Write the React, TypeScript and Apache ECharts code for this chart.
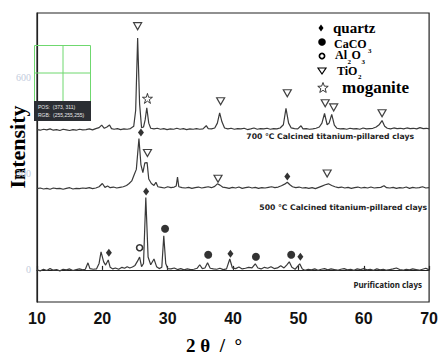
import { useEffect, useRef } from "react";
import * as echarts from "echarts";

// 2θ axis ticks
const xTicks = [10, 20, 30, 40, 50, 60, 70];
const yLabels = [0, 300, 600];

// Purification clays (baseline 0)
const purification: [number, number][] = [
  [10, 0], [10.5, -3], [11, 2], [11.5, -2], [12, 4], [12.5, -1], [13, 1], [13.5, -3], [14, 2], [14.5, 0],
  [15, 3], [15.5, -2], [16, 1], [16.5, 3], [17, 0], [17.4, 2], [17.8, 22], [18.1, 4], [18.6, 2], [19.1, 3],
  [19.5, 20], [19.8, 56], [20.2, 25], [20.5, 15], [20.9, 31], [21.2, 8], [21.6, 3], [22, 6], [22.5, 2], [23, 8],
  [23.4, 5], [23.8, 10], [24.2, 6], [24.6, 9], [25, 14], [25.4, 28], [25.7, 40], [26.0, 10], [26.3, 20], [26.65, 225],
  [27.0, 40], [27.4, 16], [27.9, 34], [28.3, 10], [28.7, 4], [29.1, 8], [29.4, 106], [29.7, 20], [30.0, 4], [30.5, 3],
  [31, 6], [31.5, 1], [32, 4], [32.5, 0], [33, 3], [33.5, 1], [34, 2], [34.5, 5], [34.9, 16], [35.3, 4],
  [35.7, 6], [36.1, 22], [36.5, 5], [37, 3], [37.5, 2], [38, 5], [38.5, 1], [39, 3], [39.5, 34], [39.9, 6],
  [40.4, 4], [40.9, 9], [41.4, 3], [41.9, 5], [42.4, 8], [42.9, 6], [43.4, 19], [43.8, 6], [44.3, 3], [44.8, 8],
  [45.3, 5], [45.8, 10], [46.3, 4], [46.8, 6], [47.3, 13], [47.8, 6], [48.2, 15], [48.6, 25], [49.0, 8], [49.5, 2],
  [50.2, 19], [50.6, 3], [51, -1], [51.5, 2], [52, 0], [52.5, 3], [53, -1], [53.5, 2], [54, 4], [54.5, 0],
  [55, 3], [55.5, 1], [56, -1], [56.5, 2], [57, 4], [57.5, 0], [58, 2], [58.5, -1], [59, 3], [59.5, 1],
  [60, 4], [60.5, 0], [61, 2], [61.5, -1], [62, 3], [62.5, 0], [63, 2], [63.5, -1], [64, 1], [64.5, 3],
  [65, 6], [65.5, 1], [66, -1], [66.5, 2], [67, 0], [67.5, 3], [68, 1], [68.5, -1], [69, 2], [69.5, 5], [70, 0],
];

// 500 ℃ calcined (relative to its own baseline)
const offset500 = 253;
const calcined500: [number, number][] = [
  [10, 0], [10.5, 2], [11, -1], [11.5, 1], [12, -2], [12.5, 2], [13, 0], [13.5, 1], [14, -2], [14.5, 1],
  [15, 3], [15.5, -1], [16, 1], [16.5, 0], [17, 2], [17.5, 1], [18, 3], [18.5, 0], [19, 2], [19.5, 6],
  [20.0, 16], [20.4, 4], [20.8, 8], [21.2, 3], [21.7, 5], [22.2, 2], [22.7, 4], [23.2, 6], [23.7, 10], [24.1, 16],
  [24.5, 24], [24.9, 45], [25.2, 60], [25.6, 156], [25.9, 75], [26.2, 50], [26.5, 80], [26.85, 81], [27.1, 30], [27.5, 16],
  [27.9, 10], [28.2, 20], [28.5, 6], [29, 4], [29.5, 2], [30, 6], [30.5, 3], [31, 5], [31.3, 8], [31.5, 36],
  [31.7, 6], [32.2, 3], [32.7, 2], [33.2, 4], [33.7, 1], [34.2, 3], [34.7, 5], [35.2, 2], [35.7, 4], [36.2, 6],
  [36.7, 3], [37.2, 7], [37.6, 15], [38, 11], [38.4, 5], [38.9, 3], [39.4, 1], [39.9, 4], [40.4, 2], [40.9, 5],
  [41.4, 1], [41.9, 3], [42.4, 5], [42.9, 2], [43.4, 4], [43.9, 1], [44.4, 3], [44.9, 2], [45.4, 4], [45.9, 6],
  [46.4, 3], [46.9, 5], [47.4, 9], [47.9, 14], [48.3, 20], [48.7, 12], [49.1, 6], [49.6, 3], [50.1, 5], [50.6, 2],
  [51.1, 3], [51.6, 1], [52.1, 3], [52.6, 0], [53.1, 4], [53.6, 8], [54.1, 12], [54.6, 15], [55.1, 10], [55.6, 6],
  [56.1, 3], [56.6, 5], [57.1, 2], [57.6, 4], [58.1, 1], [58.6, 3], [59.1, 5], [59.6, 2], [60.1, 4], [60.6, 2],
  [61.1, 5], [61.6, 2], [62.1, 3], [62.6, 4], [63.1, 9], [63.5, 3], [64, 2], [64.5, 4], [65, 1], [65.5, 3],
  [66, 2], [66.5, 5], [67, 1], [67.5, 4], [68, 2], [68.5, 3], [69, 6], [69.5, 2], [70, 3],
];

// 700 ℃ calcined (relative to its own baseline)
const offset700 = 437;
const calcined700: [number, number][] = [
  [10, 0], [10.5, -2], [11, 1], [11.5, -1], [12, 2], [12.5, -2], [13, 0], [13.5, -3], [14, 1], [14.5, -1],
  [15, -3], [15.5, 0], [16, -2], [16.5, 1], [17, -1], [17.5, 0], [18, 2], [18.5, -1], [19, 3], [19.5, 6],
  [19.9, 14], [20.3, 4], [20.7, 8], [21.1, 14], [21.4, 3], [21.8, 1], [22.3, 3], [22.8, 0], [23.3, 2], [23.8, 1],
  [24.3, 3], [24.8, 10], [25.1, 60], [25.4, 285], [25.7, 80], [26.0, 6], [26.3, 8], [26.55, 30], [26.8, 68], [27.1, 20],
  [27.4, 4], [27.9, 2], [28.4, 4], [28.9, 1], [29.4, 3], [29.9, 0], [30.4, 2], [30.9, 1], [31.4, 4], [31.9, 1],
  [32.4, 3], [32.9, 0], [33.4, 2], [33.9, 1], [34.4, 3], [34.9, 1], [35.4, 2], [35.9, 12], [36.2, 3], [36.7, 2],
  [37.2, 5], [37.6, 20], [37.95, 52], [38.3, 24], [38.7, 5], [39.2, 2], [39.7, 4], [40.2, 1], [40.7, 3], [41.2, 2],
  [41.7, 4], [42.2, 0], [42.7, 2], [43.2, 5], [43.7, 1], [44.2, 3], [44.7, 2], [45.2, 4], [45.7, 1], [46.2, 3],
  [46.7, 2], [47.2, 5], [47.7, 15], [48.1, 66], [48.5, 20], [48.9, 5], [49.4, 3], [49.9, 2], [50.4, 12], [50.7, 2],
  [51.2, 3], [51.7, 1], [52.2, 2], [52.7, 4], [53.2, 8], [53.6, 20], [54.0, 50], [54.4, 15], [54.7, 20], [55.1, 47],
  [55.5, 14], [55.9, 4], [56.4, 2], [56.9, 3], [57.4, 1], [57.9, 4], [58.4, 2], [58.9, 3], [59.4, 1], [59.9, 5],
  [60.4, 2], [60.9, 3], [61.4, 4], [61.9, 8], [62.4, 16], [62.8, 28], [63.2, 10], [63.6, 4], [64.1, 2], [64.6, 5],
  [65.1, 3], [65.6, 4], [66.1, 2], [66.6, 5], [67.1, 3], [67.6, 4], [68.1, 2], [68.6, 6], [69.1, 3], [69.6, 4], [70, 2],
];

// phase markers (2θ, intensity position)
const quartzMarks: [number, number][] = [[21.0, 53], [26.7, 244], [39.6, 50], [50.3, 41], [25.9, 428], [48.3, 291]];
const caco3Marks: [number, number][] = [[29.6, 128], [36.2, 47], [43.5, 41], [48.9, 47]];
const al2o3Marks: [number, number][] = [[25.7, 69]];
const tio2Marks: [number, number][] = [
  [25.4, 759], [38.1, 525], [48.3, 550], [54.1, 519], [55.4, 506], [62.8, 488],
  [26.9, 364], [37.7, 284], [54.4, 300],
];
const moganiteMarks: [number, number][] = [[26.9, 534]];

const sampleLabels = [
  "700 ℃ Calcined titanium-pillared clays",
  "500 ℃ Calcined titanium-pillared clays",
  "Purification clays",
];

const STAR = "path://M50,0 L61,35 L98,35 L68,57 L79,91 L50,70 L21,91 L32,57 L2,35 L39,35 Z";

function starPoints(cx: number, cy: number, R: number, r: number) {
  const pts: number[][] = [];
  for (let i = 0; i < 10; i++) {
    const a = (-90 + i * 36) * Math.PI / 180;
    const rr = i % 2 === 0 ? R : r;
    pts.push([cx + rr * Math.cos(a), cy + rr * Math.sin(a)]);
  }
  return pts;
}

export default function App() {
  const ref = useRef<HTMLDivElement>(null);
  useEffect(() => {
    const chart = echarts.init(ref.current!, null, { renderer: "svg" });
    const lineStyle = { color: "#3a3a3a", width: 1.2 };
    const serif = "'Liberation Serif', 'Times New Roman', serif";
    const sans = "'Liberation Sans', Arial, sans-serif";
    const labelFont = "'Noto Sans', 'DejaVu Sans', sans-serif";
    const wideFont = "'DejaVu Sans', sans-serif";
    const t = (x: number, y: number, text: string, font: string, extra: any = {}) => ({
      type: "text", x, y, style: { text, font, fill: "#000", verticalAlign: "middle", ...extra },
    });
    chart.setOption({
      animation: false,
      backgroundColor: "#fff",
      grid: { left: 37, right: 10, top: 13, bottom: 54, show: true, borderColor: "#222", borderWidth: 1.2 },
      xAxis: {
        type: "value", min: 10, max: 70, interval: 10,
        axisLine: { show: true, lineStyle: { color: "#222", width: 1.2 } },
        axisTick: { show: true, inside: true, length: 4, lineStyle: { color: "#222", width: 1.2 } },
        splitLine: { show: false },
        axisLabel: {
          margin: 8, fontSize: 16, fontWeight: "bold", color: "#111", fontFamily: sans,
          formatter: (v: number) => (xTicks.includes(v) ? String(v) : ""),
        },
      },
      yAxis: {
        type: "value", min: -100, max: 800, interval: 100,
        axisLine: { show: true, lineStyle: { color: "#222", width: 1.2 } },
        axisTick: { show: false },
        splitLine: { show: false },
        axisLabel: {
          margin: 6, fontSize: 10, color: "#c2cbdc", fontFamily: serif,
          formatter: (v: number) => (yLabels.includes(v) ? String(v) : ""),
        },
      },
      series: [
        { type: "line", data: purification, symbol: "none", lineStyle, z: 2 },
        { type: "line", data: calcined500.map(([x, y]) => [x, y + offset500]), symbol: "none", lineStyle, z: 2 },
        { type: "line", data: calcined700.map(([x, y]) => [x, y + offset700]), symbol: "none", lineStyle, z: 2 },
        { type: "scatter", data: quartzMarks, symbol: "diamond", symbolSize: [6, 8], itemStyle: { color: "#000" }, z: 3 },
        { type: "scatter", data: caco3Marks, symbol: "circle", symbolSize: 8, itemStyle: { color: "#000" }, z: 3 },
        { type: "scatter", data: al2o3Marks, symbol: "circle", symbolSize: [6, 6], itemStyle: { color: "#fff", borderColor: "#000", borderWidth: 1.6 }, z: 3 },
        { type: "scatter", data: tio2Marks, symbol: "triangle", symbolRotate: 180, symbolSize: [8, 7], itemStyle: { color: "#fff", borderColor: "#111", borderWidth: 1.2 }, z: 3 },
        { type: "scatter", data: moganiteMarks, symbol: STAR, symbolSize: 10, itemStyle: { color: "#fff", borderColor: "#111", borderWidth: 1 }, z: 3 },
      ],
      graphic: [
        // axis titles
        { type: "text", x: 17, y: 147, rotation: Math.PI / 2, style: { text: "Intensity", font: `bold 22px ${serif}`, fill: "#000", align: "center", verticalAlign: "middle" } },
        { type: "text", x: 214, y: 345, style: { text: "2 θ  /  °", font: `bold 19px ${serif}`, fill: "#000", align: "center", verticalAlign: "middle" } },
        // sample labels
        { type: "text", x: 414, y: 136, style: { text: sampleLabels[0], font: `bold 7.7px ${wideFont}`, fill: "#222", align: "right", verticalAlign: "middle" } },
        { type: "text", x: 427, y: 207, style: { text: sampleLabels[1], font: `bold 7.7px ${wideFont}`, fill: "#222", align: "right", verticalAlign: "middle" } },
        { type: "text", x: 422, y: 284, style: { text: sampleLabels[2], font: `bold 8px ${labelFont}`, fill: "#222", align: "right", verticalAlign: "middle" } },
        // legend
        { type: "polygon", shape: { points: [[321, 24.5], [323.5, 28], [321, 31.5], [318.5, 28]] }, style: { fill: "#000" } },
        t(333, 28, "quartz", `bold 15px ${serif}`),
        { type: "circle", shape: { cx: 322, cy: 42, r: 3.8 }, style: { fill: "#000" } },
        t(334, 44, "CaCO", `bold 12px ${serif}`),
        t(368, 50.5, "3", `bold 7px ${serif}`),
        { type: "circle", shape: { cx: 322, cy: 56, r: 2.6 }, style: { fill: "#fff", stroke: "#000", lineWidth: 1.7 } },
        t(335, 55, "Al", `bold 12px ${serif}`),
        t(347.5, 61.5, "2", `bold 7px ${serif}`),
        t(351.5, 55, "O", `bold 12px ${serif}`),
        t(361.5, 61.5, "3", `bold 7px ${serif}`),
        { type: "polygon", shape: { points: [[318, 68], [326, 68], [322, 74]] }, style: { fill: "#fff", stroke: "#000", lineWidth: 1.2 } },
        t(337, 71, "TiO", `bold 12px ${serif}`),
        t(358, 76.5, "2", `bold 7px ${serif}`),
        { type: "polygon", shape: { points: starPoints(323, 88, 5.5, 2.3) }, style: { fill: "#fff", stroke: "#222", lineWidth: 0.9 } },
        t(342, 87, "moganite", `bold 17px ${serif}`),
        // color-picker overlay from the screenshot
        { type: "rect", shape: { x: 34.5, y: 45.5, width: 56, height: 56 }, style: { fill: "rgba(255,255,255,0)", stroke: "#6fd86f", lineWidth: 1 }, z: 10 },
        { type: "line", shape: { x1: 63, y1: 45.5, x2: 63, y2: 101 }, style: { stroke: "#6fd86f", lineWidth: 1 }, z: 10 },
        { type: "line", shape: { x1: 34.5, y1: 73, x2: 90.5, y2: 73 }, style: { stroke: "#6fd86f", lineWidth: 1 }, z: 10 },
        { type: "rect", shape: { x: 34, y: 101, width: 57, height: 20 }, style: { fill: "#2b2e33" }, z: 10 },
        { type: "text", x: 38, y: 107, style: { text: "POS:  (373, 311)", font: `5px ${sans}`, fill: "#e8e8e8", verticalAlign: "middle" }, z: 11 },
        { type: "text", x: 38, y: 115, style: { text: "RGB:  (255,255,255)", font: `5px ${sans}`, fill: "#e8e8e8", verticalAlign: "middle" }, z: 11 },
      ],
    });
    return () => chart.dispose();
  }, []);
  return <div ref={ref} style={{ position: "absolute", left: 0, top: 0, width: 441, height: 356, background: "#fff" }} />;
}
